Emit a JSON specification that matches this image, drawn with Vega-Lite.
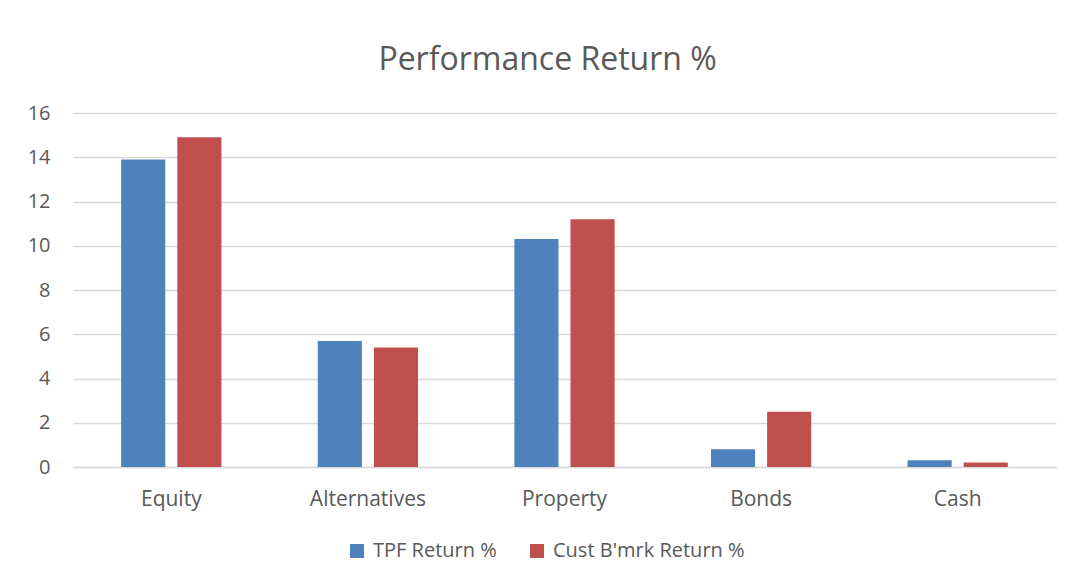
{
  "$schema": "https://vega.github.io/schema/vega-lite/v6.json",
  "width": 983,
  "height": 354,
  "autosize": {"type": "none"},
  "padding": {"left": 73, "top": 113, "right": 16, "bottom": 114},
  "background": "white",
  "title": {
    "text": "Performance Return %",
    "fontSize": 32,
    "font": "Open Sans",
    "fontWeight": "normal",
    "color": "#595959",
    "anchor": "middle",
    "dx": -17,
    "offset": 26
  },
  "data": {
    "values": [
      {"asset": "Equity", "series": "TPF Return %", "value": 13.9},
      {"asset": "Equity", "series": "Cust B'mrk Return %", "value": 14.9},
      {"asset": "Alternatives", "series": "TPF Return %", "value": 5.7},
      {"asset": "Alternatives", "series": "Cust B'mrk Return %", "value": 5.4},
      {"asset": "Property", "series": "TPF Return %", "value": 10.3},
      {"asset": "Property", "series": "Cust B'mrk Return %", "value": 11.2},
      {"asset": "Bonds", "series": "TPF Return %", "value": 0.8},
      {"asset": "Bonds", "series": "Cust B'mrk Return %", "value": 2.5},
      {"asset": "Cash", "series": "TPF Return %", "value": 0.3},
      {"asset": "Cash", "series": "Cust B'mrk Return %", "value": 0.2}
    ]
  },
  "mark": {"type": "bar"},
  "encoding": {
    "x": {
      "field": "asset",
      "type": "nominal",
      "sort": ["Equity", "Alternatives", "Property", "Bonds", "Cash"],
      "scale": {"paddingInner": 0.49, "paddingOuter": 0.245},
      "axis": {
        "title": null,
        "labelAngle": 0,
        "ticks": false,
        "labelFontSize": 21,
        "labelFont": "Open Sans",
        "labelColor": "#595959",
        "labelPadding": 21,
        "domainColor": "#d9d9d9",
        "domainWidth": 1.5
      }
    },
    "xOffset": {
      "field": "series",
      "type": "nominal",
      "sort": ["TPF Return %", "Cust B'mrk Return %"],
      "scale": {"paddingInner": 0.214, "paddingOuter": 0}
    },
    "y": {
      "field": "value",
      "type": "quantitative",
      "scale": {"domain": [0, 16]},
      "axis": {
        "title": null,
        "values": [0, 2, 4, 6, 8, 10, 12, 14, 16],
        "ticks": false,
        "domain": false,
        "labelFontSize": 20,
        "labelFont": "Open Sans",
        "labelColor": "#595959",
        "labelPadding": 23,
        "gridColor": "#d9d9d9",
        "gridWidth": 1.5
      }
    },
    "color": {
      "field": "series",
      "type": "nominal",
      "sort": ["TPF Return %", "Cust B'mrk Return %"],
      "scale": {"range": ["#4F81BD", "#C0504D"]},
      "legend": {
        "title": null,
        "orient": "none",
        "legendX": 274,
        "legendY": 428,
        "direction": "horizontal",
        "symbolType": "square",
        "symbolSize": 196,
        "symbolStrokeWidth": 0,
        "labelFontSize": 20,
        "labelFont": "Open Sans",
        "labelColor": "#595959",
        "labelOffset": 6,
        "labelLimit": 0,
        "columnPadding": 30
      }
    }
  },
  "config": {"view": {"stroke": null}}
}
